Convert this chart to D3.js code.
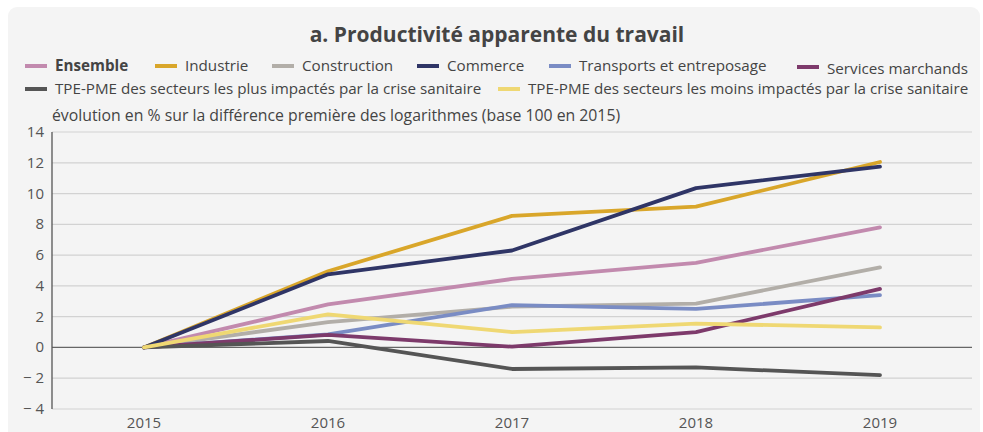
<!DOCTYPE html>
<html lang="fr">
<head>
<meta charset="utf-8">
<title>Productivité apparente du travail</title>
<script src="https://d3js.org/d3.v7.min.js"></script>
<style>
  body { margin: 0; background: #fff; font-family: "Open Sans", sans-serif; }
  svg text { fill: #444; }
</style>
</head>
<body>
<svg id="chart" width="983" height="432"></svg>
<script>
const years = ["2015", "2016", "2017", "2018", "2019"];
const yTicks = [-4, -2, 0, 2, 4, 6, 8, 10, 12, 14];

const seriesNames = [
  "Ensemble", "Industrie", "Construction", "Commerce",
  "Transports et entreposage", "Services marchands",
  "TPE-PME des secteurs les plus impactés par la crise sanitaire",
  "TPE-PME des secteurs les moins impactés par la crise sanitaire"
];
const seriesColors = ["#c28aae", "#d9a62a", "#b2aea8", "#2f3566", "#7a8cc4", "#7d3a6b", "#555555", "#efd873"];

const ensemble     = [0, 2.8, 4.45, 5.5, 7.8];
const industrie    = [0, 4.95, 8.55, 9.15, 12.05];
const construction = [0, 1.65, 2.65, 2.85, 5.2];
const commerce     = [0, 4.75, 6.3, 10.35, 11.75];
const transports   = [0, 0.85, 2.75, 2.5, 3.4];
const services     = [0, 0.82, 0.05, 1.0, 3.8];
const tpePlus      = [0, 0.42, -1.4, -1.3, -1.8];
const tpeMoins     = [0, 2.15, 1.0, 1.55, 1.3];

const seriesValues = [ensemble, industrie, construction, commerce, transports, services, tpePlus, tpeMoins];

const svg = d3.select("#chart");

// panel background
svg.append("rect")
  .attr("x", 8).attr("y", 7)
  .attr("width", 972).attr("height", 440)
  .attr("rx", 9)
  .attr("fill", "#f4f4f4");

svg.append("text")
  .attr("x", 497).attr("y", 42)
  .attr("text-anchor", "middle")
  .style("font-size", "21px")
  .style("font-weight", "bold")
  .text("a. Productivité apparente du travail");

const margin = { left: 52, right: 972, top: 132, bottom: 409 };

const x = d3.scalePoint().domain(years).range([margin.left, margin.right]).padding(0.5);
const y = d3.scaleLinear().domain([-4, 14]).range([margin.bottom, margin.top]);

// grid
svg.append("g")
  .selectAll("line")
  .data(yTicks.filter(d => d !== 0))
  .join("line")
  .attr("x1", margin.left).attr("x2", margin.right)
  .attr("y1", d => y(d)).attr("y2", d => y(d))
  .attr("stroke", "#d2d2d2").attr("stroke-width", 1.2);

svg.append("line")
  .attr("x1", margin.left).attr("x2", margin.right)
  .attr("y1", y(0)).attr("y2", y(0))
  .attr("stroke", "#666").attr("stroke-width", 1.3);

svg.append("line")
  .attr("x1", margin.left).attr("x2", margin.left)
  .attr("y1", y(14)).attr("y2", y(-4))
  .attr("stroke", "#555").attr("stroke-width", 1.3);

// y labels
svg.append("g")
  .selectAll("text")
  .data(yTicks)
  .join("text")
  .attr("x", 44)
  .attr("y", d => y(d) + 5)
  .attr("text-anchor", "end")
  .style("font-size", "15px")
  .style("fill", "#555")
  .text(d => d < 0 ? "\u2212 " + Math.abs(d) : d);

// x labels
svg.append("g")
  .selectAll("text")
  .data(years)
  .join("text")
  .attr("x", d => x(d))
  .attr("y", 428)
  .attr("text-anchor", "middle")
  .style("font-size", "15px")
  .style("fill", "#555")
  .text(d => d);

svg.append("text")
  .attr("x", 52).attr("y", 121)
  .style("font-size", "15.8px")
  .text("évolution en % sur la différence première des logarithmes (base 100 en 2015)");

// lines
const line = d3.line()
  .x((d, i) => x(years[i]))
  .y(d => y(d));

svg.append("g")
  .selectAll("path")
  .data(seriesValues)
  .join("path")
  .attr("d", line)
  .attr("fill", "none")
  .attr("stroke", (d, i) => seriesColors[i])
  .attr("stroke-width", 3.8)
  .attr("stroke-linecap", "round")
  .attr("stroke-linejoin", "round");

// legend
const legendPos = [
  [25, 66], [155, 66], [272, 66], [417, 66], [549, 66], [797, 67],
  [25, 89], [498, 89]
];

const legend = svg.append("g")
  .selectAll("g")
  .data(seriesNames)
  .join("g")
  .attr("transform", (d, i) => `translate(${legendPos[i][0]},${legendPos[i][1]})`);

legend.append("line")
  .attr("x1", 0).attr("x2", 22)
  .attr("y1", 0).attr("y2", 0)
  .attr("stroke", (d, i) => seriesColors[i])
  .attr("stroke-width", 4);

legend.append("text")
  .attr("x", 30)
  .attr("y", (d, i) => i === 5 ? 7 : 5)
  .style("font-size", "15.2px")
  .style("font-weight", (d, i) => i === 0 ? "bold" : "normal")
  .text(d => d);
</script>
</body>
</html>
